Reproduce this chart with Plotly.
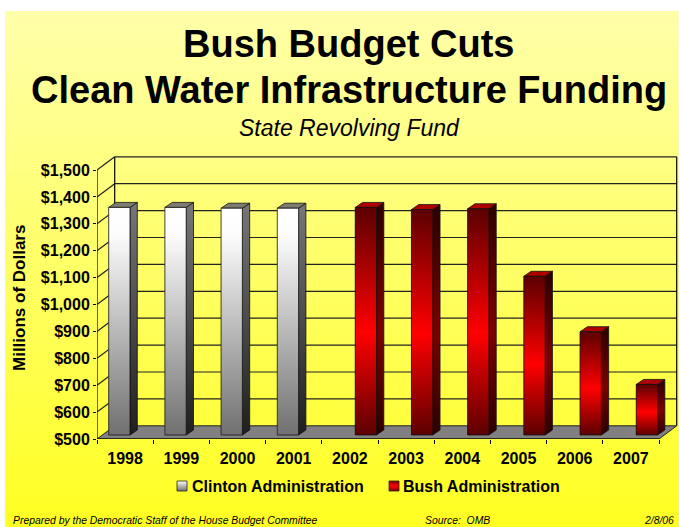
import plotly.graph_objects as go

W, H = 679, 527
FONT = "Liberation Sans"

years = ["1998", "1999", "2000", "2001", "2002", "2003", "2004", "2005", "2006", "2007"]
clinton_values = [1346, 1346, 1343, 1343]
bush_values = [1346, 1338, 1341, 1090, 884, 688]
tick_values = [500, 600, 700, 800, 900, 1000, 1100, 1200, 1300, 1400, 1500]
tick_labels = ["$500", "$600", "$700", "$800", "$900", "$1,000", "$1,100", "$1,200", "$1,300", "$1,400", "$1,500"]
series_names = ["Clinton Administration", "Bush Administration"]

# chart geometry (pseudo-3D projection, axis units)
PX_PER_CAT = 56.2
PX_PER_USD = 0.269
LEFT_PX, BASE_PX, TOP_PX = 97, 439, 150
XMAX = (W - LEFT_PX) / PX_PER_CAT
YMAX = 500 + (BASE_PX - TOP_PX) / PX_PER_USD
DEPTH_X, DEPTH_Y = 0.315, 49
BAR_W = 0.379
CLINTON_OFF, BUSH_OFF = 0.208, 0.595   # clustered slots of the two series
BAR_LIFT = 14.9
SIDE_X, SIDE_Y = 0.13, 18.6

# colour-scale position 0 is the bottom of a shape, 1 its top
CLINTON_FRONT = [[0, "#707070"], [0.88, "#fcfcfc"], [1, "#ffffff"]]
CLINTON_SIDE = [[0, "#1f1f1f"], [1, "#777777"]]
BUSH_FRONT = [[0, "#5c0000"], [0.45, "#ff0000"], [1, "#5c0000"]]
BUSH_SIDE = [[0, "#2c0000"], [0.45, "#7c0000"], [1, "#2c0000"]]
AX = dict(xaxis="x2", yaxis="y2")

fig = go.Figure()

# page background (pixel-space helper axes)
def bg_poly(x0, x1, y0, y1, scale, line=None):
    fig.add_trace(go.Scatter(
        x=[x0, x1, x1, x0, x0], y=[y0, y0, y1, y1, y0], mode="lines", fill="toself",
        fillgradient=dict(type="vertical", colorscale=scale),
        line=dict(width=0.8 if line else 0, color=line or "rgba(0,0,0,0)"),
        hoverinfo="skip", showlegend=False))

bg_poly(5, W, 11, H, [[0, "#ffff22"], [1, "#ffffaa"]])
bg_poly(177, 187, 481, 491, [[0, "#707070"], [1, "#ffffff"]], "#222222")
bg_poly(389, 399, 481, 491, [[0, "#800000"], [0.5, "#ff0000"], [1, "#800000"]], "#222222")

def poly(xs, ys, color=None, scale=None):
    kw = dict(fillgradient=dict(type="vertical", colorscale=scale)) if scale else dict(fillcolor=color)
    fig.add_trace(go.Scatter(x=xs + xs[:1], y=ys + ys[:1], mode="lines", fill="toself",
                             line=dict(color="#111111", width=0.8), hoverinfo="skip",
                             showlegend=False, cliponaxis=False, **AX, **kw))

def draw_bar(i, off, v, front, side, top, name):
    x0 = i + off
    x1 = x0 + BAR_W
    y0 = 500 + BAR_LIFT
    y1 = v + BAR_LIFT
    fig.add_trace(go.Bar(x=[x0 + BAR_W / 2], y=[v - 500], base=[y0], width=[BAR_W],
                         marker=dict(color=front[1][1]), name=name, showlegend=False,
                         hovertemplate=years[i] + ": $%{customdata}M<extra></extra>", customdata=[v], **AX))
    poly([x1, x1 + SIDE_X, x1 + SIDE_X, x1], [y1, y1 + SIDE_Y, y0 + SIDE_Y, y0], scale=side)
    poly([x0, x1, x1 + SIDE_X, x0 + SIDE_X], [y1, y1, y1 + SIDE_Y, y1 + SIDE_Y], color=top)
    poly([x0, x1, x1, x0], [y1, y1, y0, y0], scale=front)

for i, v in enumerate(clinton_values):
    draw_bar(i, CLINTON_OFF, v, CLINTON_FRONT, CLINTON_SIDE, "#7c7c70", series_names[0])
for j, v in enumerate(bush_values):
    draw_bar(j + len(clinton_values), BUSH_OFF, v, BUSH_FRONT, BUSH_SIDE, "#b00000", series_names[1])

# walls, floor and gridlines
n = len(years)
shapes = []
def seg(x0, y0, x1, y1, color="#222222", width=1.2):
    shapes.append(dict(type="line", xref="x2", yref="y2", x0=x0, y0=y0, x1=x1, y1=y1,
                       line=dict(color=color, width=width), layer="below"))
shapes.append(dict(type="path", xref="x2", yref="y2", layer="below", fillcolor="#808080",
                   line=dict(color="#222222", width=1),
                   path=f"M0,500 L{DEPTH_X},{500+DEPTH_Y} L{n+DEPTH_X},{500+DEPTH_Y} L{n},500 Z"))
for v in tick_values[1:]:
    seg(DEPTH_X, v + DEPTH_Y, n + DEPTH_X, v + DEPTH_Y)
    seg(0, v, DEPTH_X, v + DEPTH_Y)
seg(0, 500, 0, tick_values[-1], "#000000")
seg(0, 500, n, 500, "#000000")
seg(DEPTH_X, 500 + DEPTH_Y, DEPTH_X, tick_values[-1] + DEPTH_Y, "#000000")
seg(n + DEPTH_X, 500 + DEPTH_Y, n + DEPTH_X, tick_values[-1] + DEPTH_Y, "#000000")

def ann(text, x, y, size, bold=False, italic=False, anchor="center", angle=0):
    if bold:
        text = f"<b>{text}</b>"
    if italic:
        text = f"<i>{text}</i>"
    return dict(text=text, xref="paper", yref="paper", x=x / W, y=1 - y / H, xanchor=anchor,
                yanchor="middle", showarrow=False, textangle=angle,
                font=dict(family=FONT, size=size, color="black"))

annotations = [
    ann("Bush Budget Cuts", 349, 44, 38, bold=True),
    ann("Clean Water Infrastructure Funding", 349, 90, 38, bold=True),
    ann("State Revolving Fund", 350, 128, 23, italic=True),
    ann("Millions of Dollars", 19, 298, 17, bold=True, angle=-90),
    ann(series_names[0], 190, 486, 16, bold=True, anchor="left"),
    ann(series_names[1], 401, 486, 16, bold=True, anchor="left"),
    ann("Prepared by the Democratic Staff of the House Budget Committee", 11, 520, 10.4, italic=True, anchor="left"),
    ann("Source:  OMB", 423, 520, 10.4, italic=True, anchor="left"),
    ann("2/8/06", 676, 520, 10.4, italic=True, anchor="right"),
]

tickfont = dict(family=FONT, size=16, color="black")
fig.update_layout(
    template="none",
    width=W, height=H, autosize=False, margin=dict(l=0, r=0, t=0, b=0),
    paper_bgcolor="white", plot_bgcolor="rgba(0,0,0,0)", showlegend=False, barmode="overlay",
    shapes=shapes, annotations=annotations,
    xaxis=dict(domain=[0, 1], range=[0, W], visible=False, fixedrange=True),
    yaxis=dict(domain=[0, 1], range=[H, 0], visible=False, fixedrange=True),
    xaxis2=dict(domain=[LEFT_PX / W, 1], range=[0, XMAX], anchor="y2", showgrid=False, zeroline=False,
                showline=False, automargin=False,
                tickmode="array", tickvals=[i + 0.5 for i in range(n)], ticktext=[f"<b>{y}</b>" for y in years],
                ticks="", tickfont=tickfont, ticklabelstandoff=8,
                minor=dict(tickmode="array", tickvals=list(range(n + 1)), ticks="outside", ticklen=4,
                           tickwidth=1, tickcolor="black", showgrid=False)),
    yaxis2=dict(domain=[1 - BASE_PX / H, 1 - TOP_PX / H], range=[500, YMAX], anchor="x2", showgrid=False,
                zeroline=False, showline=False, automargin=False, tickmode="array", tickvals=tick_values,
                ticktext=[f"<b>{t}</b>" for t in tick_labels],
                ticks="outside", ticklen=3, tickwidth=1, tickcolor="black", tickfont=tickfont),
)
fig.write_html("out.html", config=dict(displayModeBar=False),
               post_script="document.body.style.margin='0';document.body.style.overflow='hidden';")
